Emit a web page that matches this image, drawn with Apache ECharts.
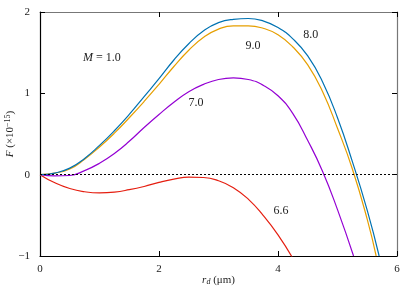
<!DOCTYPE html>
<html><head><meta charset="utf-8">
<script src="https://cdn.jsdelivr.net/npm/echarts@6/dist/echarts.min.js"></script>
<style>html,body{margin:0;padding:0;background:#fff}#c{width:415px;height:291px}</style>
</head><body><div id="c"></div>
<script>
const r8 = [0,0.25,0.5,0.75,1.0,1.25,1.5,1.75,2.0,2.25,2.5,2.75,3.0,3.25,3.5,3.75,4.0,4.25,4.5,4.75,5.0,5.25,5.5,5.7];
const F8 = [0,0.02,0.08,0.20,0.36,0.54,0.74,0.96,1.18,1.41,1.61,1.77,1.87,1.91,1.92,1.89,1.81,1.67,1.46,1.14,0.70,0.16,-0.44,-1.0];
const r9 = [0,0.25,0.5,0.75,1.0,1.25,1.5,1.75,2.0,2.25,2.5,2.75,3.0,3.25,3.5,3.75,4.0,4.25,4.5,4.75,5.0,5.25,5.5,5.65];
const F9 = [0,0.02,0.07,0.19,0.34,0.51,0.70,0.90,1.11,1.33,1.53,1.69,1.79,1.83,1.83,1.80,1.72,1.57,1.35,1.02,0.57,0.07,-0.55,-1.0];
const r7 = [0,0.25,0.5,0.75,1.0,1.25,1.5,1.75,2.0,2.25,2.5,2.75,3.0,3.25,3.5,3.75,4.0,4.25,4.5,4.75,5.0,5.27];
const F7 = [0,-0.015,-0.01,0.05,0.14,0.26,0.41,0.58,0.74,0.89,1.02,1.11,1.17,1.19,1.17,1.10,0.97,0.75,0.42,0.04,-0.43,-1.0];
const r66 = [0,0.25,0.5,0.75,1.0,1.25,1.5,1.75,2.0,2.25,2.5,2.75,3.0,3.25,3.5,3.75,4.0,4.25];
const F66 = [0,-0.10,-0.17,-0.21,-0.225,-0.215,-0.185,-0.145,-0.095,-0.055,-0.03,-0.035,-0.075,-0.16,-0.30,-0.50,-0.74,-1.03];
const xTicks = [0,2,4,6];
const yTicks = [-1,0,1,2];
const annotations = [
  {text:'{i|M} = 1.0', r:1.04, F:1.44},
  {text:'8.0', r:4.55, F:1.72},
  {text:'9.0', r:3.58, F:1.58},
  {text:'7.0', r:2.62, F:0.88},
  {text:'6.6', r:4.05, F:-0.44}
];
const font = 'Liberation Serif';
const pair = (a,b)=>a.map((v,i)=>[v,b[i]]);
const chart = echarts.init(document.getElementById('c'));
const lineS = (name, r, F, color) => ({
  name, type:'line', data: pair(r,F), smooth:0.5, showSymbol:false, symbol:'none',
  lineStyle:{color, width:1.2}, itemStyle:{color}, clip:true, z:3
});
const axisTxt = {color:'#222', fontFamily:font, fontSize:11};
chart.setOption({
  animation:false,
  grid:{left:40, top:12, right:18, bottom:35, containLabel:false, outerBoundsMode:'none'},
  xAxis:[{
    type:'value', min:0, max:6, interval:2,
    axisLine:{onZero:false, lineStyle:{color:'#000', width:1.2}},
    axisTick:{inside:true, length:5, lineStyle:{color:'#000'}},
    axisLabel:Object.assign({margin:8, formatter:v=>xTicks.includes(v)?String(v):''}, axisTxt),
    splitLine:{show:false},
    name:'{i|r}{sub|d} (μm)', nameLocation:'middle', nameGap:18, nameMoveOverlap:false,
    nameTextStyle:Object.assign({rich:{i:{fontStyle:'italic',fontFamily:font,fontSize:11,color:'#222'},sub:{fontStyle:'italic',fontFamily:font,fontSize:8,color:'#222',verticalAlign:'bottom',padding:[4,0,0,0]}}}, axisTxt)
  },{
    type:'value', min:0, max:6, interval:2, position:'top',
    axisLine:{onZero:false, lineStyle:{color:'#777', width:1.2}},
    axisTick:{inside:true, length:5, lineStyle:{color:'#000'}},
    axisLabel:{show:false}, splitLine:{show:false}
  }],
  yAxis:[{
    type:'value', min:-1, max:2, interval:1,
    axisLine:{onZero:false, lineStyle:{color:'#000', width:1.2}},
    axisTick:{inside:true, length:5, lineStyle:{color:'#000'}},
    axisLabel:Object.assign({margin:10, formatter:v=>yTicks.includes(v)?(v<0?'−'+Math.abs(v):String(v)):''}, axisTxt),
    splitLine:{show:false},
    name:'{i|F} (×10{sup|−15})', nameLocation:'middle', nameGap:24, nameMoveOverlap:false,
    nameTextStyle:Object.assign({rich:{i:{fontStyle:'italic',fontFamily:font,fontSize:11,color:'#222'},sup:{fontFamily:font,fontSize:8,color:'#222',verticalAlign:'top',padding:[0,0,4,0]}}}, axisTxt)
  },{
    type:'value', min:-1, max:2, interval:1, position:'right',
    axisLine:{onZero:false, lineStyle:{color:'#777', width:1.2}},
    axisTick:{inside:true, length:5, lineStyle:{color:'#000'}},
    axisLabel:{show:false}, splitLine:{show:false}
  }],
  series:[
    Object.assign(lineS('6.6', r66, F66, '#e51e10'), {
      markLine:{silent:true, symbol:'none', label:{show:false},
        lineStyle:{color:'#000', type:[2,2], width:1}, data:[{yAxis:0}]}
    }),
    lineS('7.0', r7, F7, '#9400d3'),
    lineS('9.0', r9, F9, '#e69f00'),
    lineS('8.0', r8, F8, '#0072b2')
  ]
});
const g = annotations.map(a => {
  const p = chart.convertToPixel({xAxisIndex:0, yAxisIndex:0}, [a.r, a.F]);
  return {type:'text', x:p[0], y:p[1], z:10, style:{text:a.text, fill:'#222',
    font:'12px "'+font+'"', align:'center', verticalAlign:'middle',
    rich:{i:{fontStyle:'italic', fontFamily:font, fontSize:12, fill:'#222'}}}};
});
chart.setOption({graphic:g});
</script></body></html>
